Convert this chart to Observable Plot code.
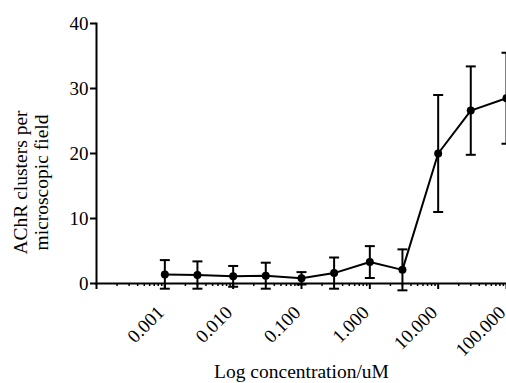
<!DOCTYPE html>
<html>
<head>
<meta charset="utf-8">
<script src="https://cdn.jsdelivr.net/npm/d3@7"></script>
<script src="https://cdn.jsdelivr.net/npm/@observablehq/plot@0.6"></script>
<style>
  html, body { margin: 0; padding: 0; background: #fff; }
  #chart svg { display: block; }
</style>
</head>
<body>
<div id="chart"></div>
<script>
// Data
const concentrations = [0.001, 0.003, 0.01, 0.03, 0.1, 0.3, 1, 3, 10, 30, 100];
const means  = [1.4, 1.3, 1.1, 1.2, 0.8, 1.6, 3.3, 2.1, 20.0, 26.6, 28.5];
const errors = [2.2, 2.1, 1.6, 2.0, 0.95, 2.4, 2.45, 3.15, 9.0, 6.8, 7.0];

const xDomain = [0.0001, 100];
const yDomain = [0, 40];
const majorTicks = [0.0001, 0.001, 0.01, 0.1, 1, 10, 100];
const majorLabels = ["", "0.001", "0.010", "0.100", "1.000", "10.000", "100.000"];
const yTicks = [0, 10, 20, 30, 40];
const yLabelLine1 = "AChR clusters per";
const yLabelLine2 = "microscopic field";
const xLabel = "Log concentration/uM";

const serif = "Liberation Serif, DejaVu Serif";
const data = concentrations.map((c, i) => ({c, m: means[i], lo: means[i] - errors[i], hi: means[i] + errors[i]}));
const tickLabels = majorTicks.map((t, i) => ({t, label: majorLabels[i]}));
const minorTicks = d3.scaleLog().domain(xDomain).ticks(40).filter(t => !majorTicks.some(m => Math.abs(m - t) / m < 1e-9));

const capSymbol = {
  draw(ctx, size) {
    const w = Math.sqrt(size / Math.PI);
    ctx.moveTo(-w, 0);
    ctx.lineTo(w, 0);
  }
};

const chart = Plot.plot({
  width: 506,
  height: 383,
  marginLeft: 96,
  marginRight: 0,
  marginTop: 23,
  marginBottom: 100,
  style: {fontFamily: serif, fontSize: "18px", color: "#000", background: "#fff"},
  x: {type: "log", domain: xDomain},
  y: {domain: yDomain},
  marks: [
    Plot.axisY({ticks: yTicks, tickSize: 6, tickPadding: 2, strokeWidth: 2, fontSize: 19, fontFamily: serif, label: null}),
    Plot.axisX({ticks: minorTicks, tickSize: 3, strokeWidth: 1.5, tickFormat: () => "", label: null}),
    Plot.axisX({ticks: majorTicks, tickSize: 6, strokeWidth: 2, tickFormat: () => "", label: null}),
    Plot.text(tickLabels, {x: "t", text: "label", frameAnchor: "bottom", rotate: -45, textAnchor: "end", lineAnchor: "middle",
      dx: -4, dy: 26, fontSize: 19, fontFamily: serif, fill: "black"}),
    Plot.frame({anchor: "left", strokeWidth: 2}),
    Plot.frame({anchor: "bottom", strokeWidth: 2}),
    Plot.ruleX(data, {x: "c", y1: "lo", y2: "hi", strokeWidth: 2}),
    Plot.dot(data, {x: "c", y: "hi", symbol: capSymbol, r: 5, stroke: "black", strokeWidth: 2}),
    Plot.dot(data, {x: "c", y: "lo", symbol: capSymbol, r: 5, stroke: "black", strokeWidth: 2}),
    Plot.line(data, {x: "c", y: "m", strokeWidth: 2, stroke: "black"}),
    Plot.dot(data, {x: "c", y: "m", r: 4, fill: "black", stroke: "none"}),
    Plot.text([yLabelLine1], {frameAnchor: "left", textAnchor: "middle", lineAnchor: "middle", rotate: -90, dx: -76, dy: 29, fontSize: 19.5, fontFamily: serif, fill: "black"}),
    Plot.text([yLabelLine2], {frameAnchor: "left", textAnchor: "middle", lineAnchor: "middle", rotate: -90, dx: -55, dy: 29, fontSize: 19.5, fontFamily: serif, fill: "black"}),
    Plot.text([xLabel], {frameAnchor: "bottom", lineAnchor: "middle", dy: 88, fontSize: 19.5, fontFamily: serif, fill: "black"})
  ]
});
document.getElementById("chart").appendChild(chart);
</script>
</body>
</html>
